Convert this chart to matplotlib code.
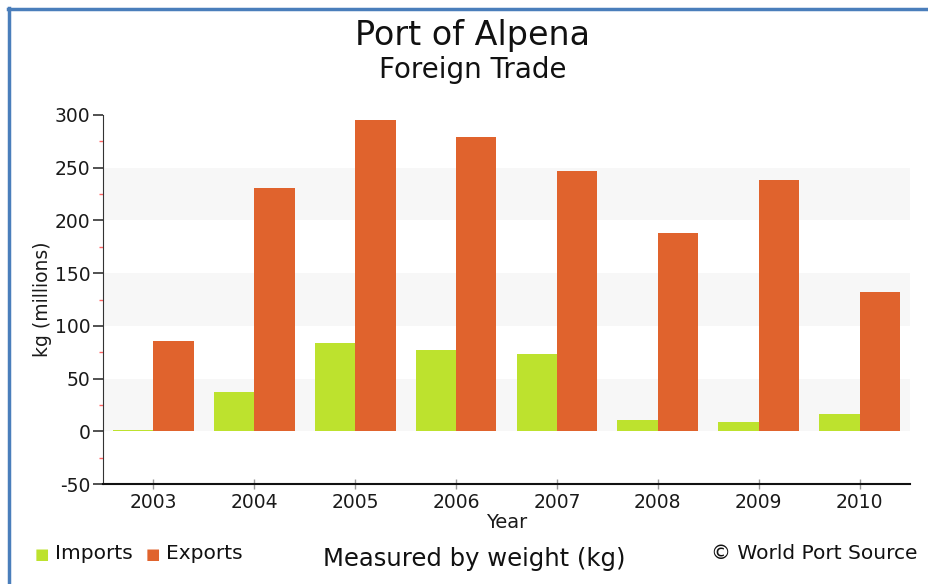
import numpy as np
import matplotlib.pyplot as plt
from matplotlib.lines import Line2D
from matplotlib.ticker import MultipleLocator

plt.rcParams['font.family'] = 'DejaVu Sans'
plt.rcParams['axes.unicode_minus'] = False

# Foreign trade for the Port of Alpena, millions of kg
years = ['2003', '2004', '2005', '2006', '2007', '2008', '2009', '2010']
imports = [1, 37, 84, 77, 73, 11, 9, 16]
exports = [86, 231, 295, 279, 247, 188, 238, 132]

imp_color = '#bde22e'
exp_color = '#e0632d'
ink = '#1a1a1a'

fig = plt.figure(figsize=(9.29, 5.84), dpi=100)
ax = fig.add_axes([0.1109, 0.1712, 0.8686, 0.6319])

x = np.arange(len(years))
w = 0.4
ax.bar(x - w / 2, imports, w, color=imp_color, zorder=2)
ax.bar(x + w / 2, exports, w, color=exp_color, zorder=2)

# alternating light bands behind the bars
for lo in (0, 100, 200):
    ax.axhspan(lo, lo + 50, color='#f7f7f7', lw=0, zorder=0)

ax.set_xlim(-0.5, 7.5)
ax.set_ylim(-50, 300)
ax.yaxis.set_major_locator(MultipleLocator(50))
ax.yaxis.set_minor_locator(MultipleLocator(25))
ax.tick_params(axis='y', which='major', length=7, width=1.2, color='#333333',
               labelsize=13.5, labelcolor=ink, pad=2)
ax.tick_params(axis='y', which='minor', length=3, width=1, color='#ff6666')
ax.set_xticks(x)
ax.set_xticklabels(years, fontsize=13.5)
ax.tick_params(axis='x', direction='inout', length=7, width=1, color='#999999',
               labelcolor=ink, pad=3)

for s in ('top', 'right'):
    ax.spines[s].set_visible(False)
ax.spines['left'].set_color('#333333')
ax.spines['bottom'].set_color('#111111')
ax.spines['bottom'].set_linewidth(1.5)

ax.set_ylabel('kg (millions)', fontsize=13.5, color=ink, labelpad=2)
ax.set_xlabel('Year', fontsize=14, color=ink, labelpad=1)

fig.text(0.509, 0.923, 'Port of Alpena', ha='center', va='baseline',
         fontsize=24, color='#111111')
fig.text(0.509, 0.866, 'Foreign Trade', ha='center', va='baseline',
         fontsize=20, color='#111111')
fig.text(0.511, 0.030, 'Measured by weight (kg)', ha='center', va='baseline',
         fontsize=17.5, color='#111111')
fig.text(0.988, 0.043, '\u00a9 World Port Source', ha='right', va='baseline',
         fontsize=14.5, color='#111111')

# legend row
fig.text(0.037, 0.043, '\u25a0', fontsize=11, color=imp_color, va='baseline')
fig.text(0.059, 0.043, 'Imports', fontsize=14.5, color='#111111', va='baseline')
fig.text(0.157, 0.043, '\u25a0', fontsize=11, color=exp_color, va='baseline')
fig.text(0.179, 0.043, 'Exports', fontsize=14.5, color='#111111', va='baseline')

# frame edges
fig.add_artist(Line2D([0.009, 1.0], [0.985, 0.985], color='#4a7ebb', lw=2.5))
fig.add_artist(Line2D([0.010, 0.010], [0.0, 0.986], color='#4a7ebb', lw=2.5))

fig.savefig('out.png', dpi=100)
